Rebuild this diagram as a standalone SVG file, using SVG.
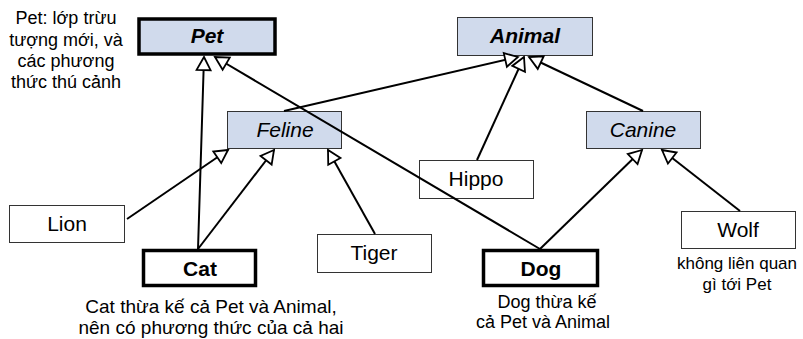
<svg xmlns="http://www.w3.org/2000/svg" width="803" height="339" viewBox="0 0 803 339">
<style>
.bg{fill:#ffffff}
.abs{fill:#D0DAEC;stroke:#333333;stroke-width:1}
.abs-thick{fill:#D0DAEC;stroke:#000000;stroke-width:3.5}
.cls{fill:#ffffff;stroke:#333333;stroke-width:1}
.cls-thick{fill:#ffffff;stroke:#000000;stroke-width:3.5}
.lbl{font-family:"Liberation Sans",Arial,sans-serif;font-size:21px;fill:#000;text-anchor:middle}
.b{font-weight:bold}
.i{font-style:italic}
.note{font-family:"Liberation Sans",Arial,sans-serif;font-size:18px;fill:#000;text-anchor:middle}
.conn{stroke:#000;stroke-width:2;fill:none;marker-end:url(#tri)}
</style>
<defs>
<marker id="tri" markerUnits="userSpaceOnUse" viewBox="-16 -9 18 18" refX="0" refY="0" markerWidth="18" markerHeight="18" orient="auto">
<path d="M0,0 L-13,-7 L-13,7 Z" fill="#ffffff" stroke="#000" stroke-width="1.8" stroke-linejoin="miter"/>
</marker>
</defs>
<rect class="bg" x="0" y="0" width="803" height="339"/>
<g id="pet"><rect class="abs-thick" x="139" y="19" width="136" height="35"/><text class="lbl b i" x="207" y="43">Pet</text></g>
<g id="animal"><rect class="abs" x="457.5" y="17.5" width="135" height="38"/><text class="lbl b i" x="525" y="43">Animal</text></g>
<g id="feline"><rect class="abs" x="227.5" y="111.5" width="114" height="37"/><text class="lbl i" x="285" y="137">Feline</text></g>
<g id="canine"><rect class="abs" x="586.5" y="111.5" width="114" height="37"/><text class="lbl i" x="643" y="137">Canine</text></g>
<g id="hippo"><rect class="cls" x="419.5" y="160.5" width="114" height="38"/><text class="lbl" x="476" y="186">Hippo</text></g>
<g id="lion"><rect class="cls" x="9.5" y="205.5" width="115" height="37"/><text class="lbl" x="67" y="231">Lion</text></g>
<g id="cat"><rect class="cls-thick" x="143.5" y="250.5" width="112" height="35"/><text class="lbl b" x="200" y="276">Cat</text></g>
<g id="tiger"><rect class="cls" x="317.5" y="234.5" width="114" height="38"/><text class="lbl" x="374" y="260">Tiger</text></g>
<g id="dog"><rect class="cls-thick" x="483.5" y="250.5" width="114" height="35"/><text class="lbl b" x="541" y="276">Dog</text></g>
<g id="wolf"><rect class="cls" x="681.5" y="211.5" width="114" height="37"/><text class="lbl" x="738" y="237">Wolf</text></g>
<g id="connectors">
<line class="conn" x1="198" y1="249" x2="204" y2="57"/>
<line class="conn" x1="540" y1="249" x2="215" y2="57"/>
<line class="conn" x1="284" y1="111" x2="518" y2="57"/>
<line class="conn" x1="477" y1="160" x2="524" y2="57"/>
<line class="conn" x1="643" y1="111" x2="529" y2="57"/>
<line class="conn" x1="127" y1="219" x2="228" y2="150"/>
<line class="conn" x1="198" y1="249" x2="274" y2="150"/>
<line class="conn" x1="375" y1="234" x2="328" y2="150"/>
<line class="conn" x1="540" y1="249" x2="642" y2="150"/>
<line class="conn" x1="740" y1="211" x2="662" y2="150"/>
</g>
<g id="notes">
<text class="note" x="66"><tspan x="66" y="24">Pet: lớp trừu</tspan><tspan x="66" y="46">tượng mới, và</tspan><tspan x="66" y="67">các phương</tspan><tspan x="66" y="88">thức thú cảnh</tspan></text>
<text class="note" x="211" style="font-size:19px"><tspan x="211" y="313">Cat thừa kế cả Pet và Animal,</tspan><tspan x="211" y="334">nên có phương thức của cả hai</tspan></text>
<text class="note" x="545"><tspan x="547" y="308">Dog thừa kế</tspan><tspan x="543" y="328">cả Pet và Animal</tspan></text>
<text class="note" x="737" style="font-size:17px"><tspan x="737" y="269">không liên quan</tspan><tspan x="737" y="290">gì tới Pet</tspan></text>
</g>
</svg>
